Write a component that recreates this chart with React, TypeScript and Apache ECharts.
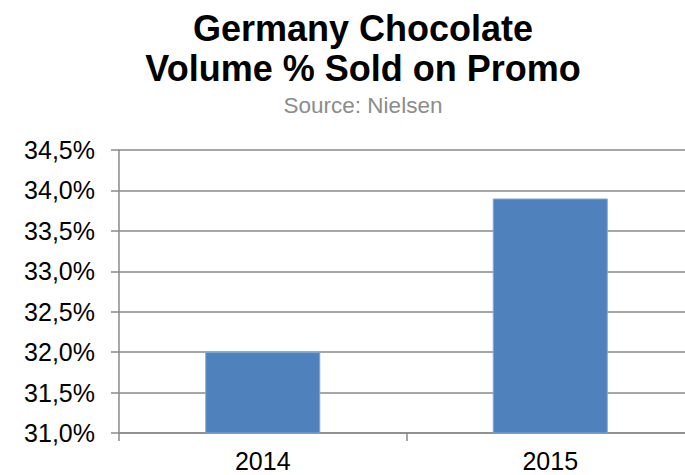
import React, { useEffect, useRef } from "react";
import * as echarts from "echarts";

const categories = ["2014", "2015"];
const values = [32.0, 33.9];
const yMin = 31.0;
const yMax = 34.5;
const yStep = 0.5;
const titleLines = ["Germany Chocolate", "Volume % Sold on Promo"];
const subtitle = "Source: Nielsen";

const FONT = "'Liberation Sans', Arial, sans-serif";
const TITLE_X = 363;

export default function App() {
  const ref = useRef<HTMLDivElement>(null);
  useEffect(() => {
    if (!ref.current) return;
    const chart = echarts.init(ref.current, undefined, { renderer: "svg" });
    chart.setOption({
      animation: false,
      backgroundColor: "#ffffff",
      graphic: [
        ...titleLines.map((t, i) => ({
          type: "text",
          x: TITLE_X,
          y: 28 + i * 40,
          silent: true,
          style: {
            text: t,
            font: `bold 36px ${FONT}`,
            fill: "#000000",
            textAlign: "center",
            textVerticalAlign: "middle",
          },
        })),
        {
          type: "text",
          x: TITLE_X,
          y: 105,
          silent: true,
          style: {
            text: subtitle,
            font: `22.5px ${FONT}`,
            fill: "#8c8c8c",
            textAlign: "center",
            textVerticalAlign: "middle",
          },
        },
      ],
      grid: {
        left: 119,
        top: 150,
        bottom: 42,
        width: 575,
        containLabel: false,
        outerBoundsMode: "none",
      },
      xAxis: {
        type: "category",
        data: categories,
        axisLine: { show: true, lineStyle: { color: "#8a8a8a", width: 1.5 } },
        axisTick: { show: true, length: 8, lineStyle: { color: "#8a8a8a", width: 1.5 } },
        axisLabel: {
          fontFamily: FONT,
          fontSize: 25,
          color: "#000000",
          margin: 15,
        },
        splitLine: { show: false },
      },
      yAxis: {
        type: "value",
        min: yMin,
        max: yMax,
        interval: yStep,
        axisLine: { show: true, lineStyle: { color: "#8a8a8a", width: 1.5 } },
        axisTick: { show: true, length: 8, lineStyle: { color: "#8a8a8a", width: 1.5 } },
        axisLabel: {
          fontFamily: FONT,
          fontSize: 25,
          color: "#000000",
          margin: 24,
          formatter: (v: number) => v.toFixed(1).replace(".", ",") + "%",
        },
        splitLine: { show: true, lineStyle: { color: "#8a8a8a", width: 1.5 } },
      },
      series: [
        {
          type: "bar",
          data: values,
          barWidth: "40%",
          itemStyle: { color: "#4f81bd", borderColor: "#7fa6d6", borderWidth: 1 },
        },
      ],
    });
    return () => chart.dispose();
  }, []);
  return (
    <div
      ref={ref}
      style={{ position: "absolute", left: 0, top: 0, width: 685, height: 475 }}
    />
  );
}
